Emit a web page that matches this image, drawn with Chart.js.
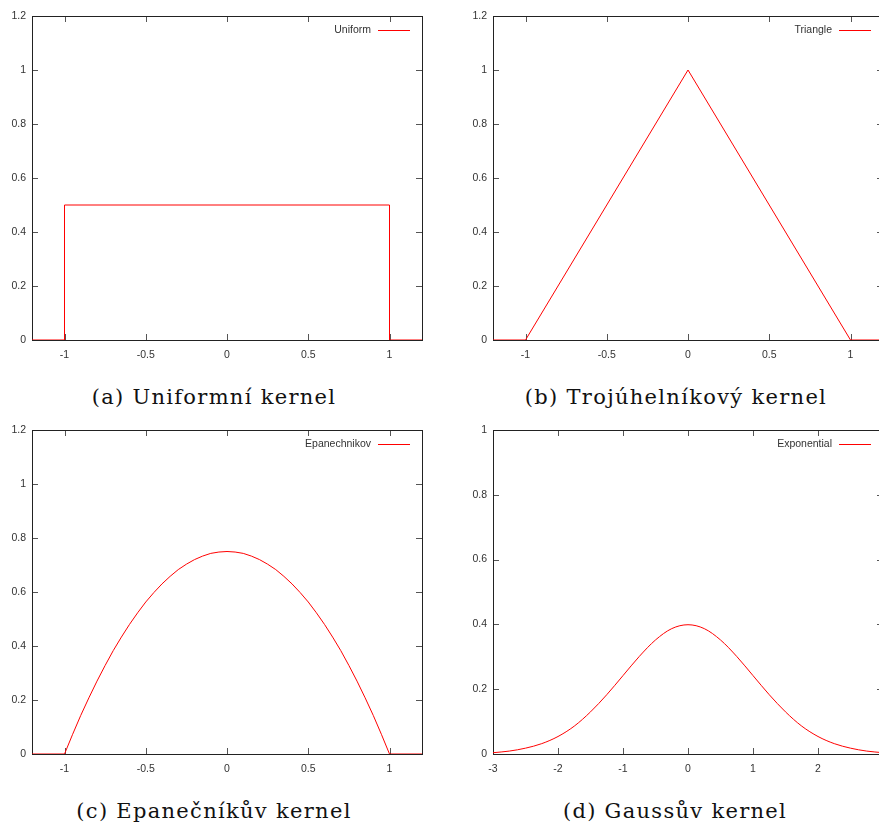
<!DOCTYPE html>
<html>
<head>
<meta charset="utf-8">
<script src="https://cdn.jsdelivr.net/npm/chart.js@4"></script>
<style>
body{margin:0;background:#fff;}
#page{position:relative;width:879px;height:827px;overflow:hidden;background:#fff;}
canvas{position:absolute;}
.cap{position:absolute;width:440px;text-align:center;font-family:"DejaVu Serif",serif;font-size:21px;letter-spacing:1.3px;color:#111;line-height:30px;}
</style>
</head>
<body>
<div id="page">
<canvas id="cA" width="440" height="370" style="left:0;top:0"></canvas>
<canvas id="cB" width="440" height="370" style="left:461px;top:0"></canvas>
<canvas id="cC" width="440" height="370" style="left:0;top:414px"></canvas>
<canvas id="cD" width="440" height="370" style="left:461px;top:414px"></canvas>
<div class="cap" style="left:-6px;top:382px">(a) Uniformní kernel</div>
<div class="cap" style="left:456px;top:382px">(b) Trojúhelníkový kernel</div>
<div class="cap" style="left:-6px;top:796px">(c) Epanečníkův kernel</div>
<div class="cap" style="left:455px;top:796px">(d) Gaussův kernel</div>
</div>
<script>
// kernel shapes
const uniformX=[-1.2,-1,-1,1,1,1.2];
const uniformY=[0,0,0.5,0.5,0,0];

const triangleX=[-1.2,-1,0,1,1.2];
const triangleY=[0,0,1,0,0];

const epanX=[-1.2,-1,-0.95,-0.9,-0.85,-0.8,-0.75,-0.7,-0.65,-0.6,-0.55,-0.5,-0.45,-0.4,-0.35,-0.3,-0.25,-0.2,-0.15,-0.1,-0.05,0,
0.05,0.1,0.15,0.2,0.25,0.3,0.35,0.4,0.45,0.5,0.55,0.6,0.65,0.7,0.75,0.8,0.85,0.9,0.95,1,1.2];
const epanY=[0,0,0.073,0.143,0.208,0.27,0.328,0.383,0.433,0.48,0.523,0.563,0.598,0.63,0.658,0.683,0.703,0.72,0.733,0.743,0.748,0.75,
0.748,0.743,0.733,0.72,0.703,0.683,0.658,0.63,0.598,0.563,0.523,0.48,0.433,0.383,0.328,0.27,0.208,0.143,0.073,0,0];

const gaussX=[-3,-2.75,-2.5,-2.25,-2,-1.75,-1.5,-1.25,-1,-0.75,-0.5,-0.25,0,0.25,0.5,0.75,1,1.25,1.5,1.75,2,2.25,2.5,2.75,3];
const gaussY=[0.004,0.009,0.018,0.032,0.054,0.086,0.13,0.183,0.242,0.301,0.352,0.387,0.399,0.387,0.352,0.301,0.242,0.183,0.13,0.086,0.054,0.032,0.018,0.009,0.004];

// axis ticks
const xTicksUnit=[-1,-0.5,0,0.5,1];
const xTicksGauss=[-3,-2,-1,0,1,2];
const yTicksUnit=[0,0.2,0.4,0.6,0.8,1,1.2];
const yTicksGauss=[0,0.2,0.4,0.6,0.8,1];

const tickFont={family:"Liberation Sans",size:10.5};

// gnuplot style frame with inward ticks on all sides, key in the top right corner
const framePlugin={
id:"frame",
beforeDatasetsDraw(chart){
let ctx=chart.ctx;
let a=chart.chartArea;
let xs=chart.scales.x, ys=chart.scales.y;
ctx.save();
ctx.strokeStyle="#555";
ctx.lineWidth=1;
ctx.beginPath();
xs.ticks.forEach(t=>{
let px=Math.round(xs.getPixelForValue(t.value))+0.5;
ctx.moveTo(px,a.bottom);ctx.lineTo(px,a.bottom-6);
ctx.moveTo(px,a.top);ctx.lineTo(px,a.top+6);
});
ys.ticks.forEach(t=>{
let py=Math.round(ys.getPixelForValue(t.value))+0.5;
ctx.moveTo(a.left,py);ctx.lineTo(a.left+6,py);
ctx.moveTo(a.right,py);ctx.lineTo(a.right-6,py);
});
ctx.stroke();
ctx.strokeStyle="#222";
ctx.strokeRect(Math.round(a.left)+0.5,Math.round(a.top)+0.5,Math.round(a.right-a.left),Math.round(a.bottom-a.top));

// key
let ds=chart.data.datasets[0];
let ky=a.top+14.5;
let lineEnd=a.right-12;
ctx.strokeStyle=ds.borderColor;
ctx.beginPath();
ctx.moveTo(lineEnd-32,ky);ctx.lineTo(lineEnd,ky);
ctx.stroke();
ctx.fillStyle="#333";
ctx.font="10.5px 'Liberation Sans'";
ctx.textAlign="right";
ctx.textBaseline="middle";
ctx.fillText(ds.label,lineEnd-39,ky);
ctx.restore();
}
};

function makeChart(id,label,xs,ys,xMin,xMax,xTicks,yMax,yTicks,smooth){

let points=xs.map((x,i)=>({x:x,y:ys[i]}));

return new Chart(document.getElementById(id),{
type:"line",
data:{
datasets:[{
label:label,
data:points,
borderColor:"#ff0000",
borderWidth:1,
pointRadius:0,
fill:false,
cubicInterpolationMode:smooth?"monotone":"default",
tension:0
}]
},
options:{
responsive:false,
animation:false,
devicePixelRatio:1,
layout:{padding:{top:16,right:18,left:0,bottom:0}},
plugins:{
tooltip:{enabled:false},
legend:{display:false}
},
scales:{
x:{
type:"linear",
min:xMin,max:xMax,
grid:{display:false,drawTicks:false},
border:{display:false},
afterBuildTicks:s=>{s.ticks=xTicks.map(v=>({value:v}));},
afterFit:s=>{s.height=30;},
ticks:{padding:9,color:"#333",font:tickFont,maxRotation:0,autoSkip:false,callback:v=>String(v)}
},
y:{
min:0,max:yMax,
grid:{display:false,drawTicks:false},
border:{display:false},
afterBuildTicks:s=>{s.ticks=yTicks.map(v=>({value:v}));},
afterFit:s=>{s.width=32;},
ticks:{padding:6,color:"#333",font:tickFont,autoSkip:false,callback:v=>String(v)}
}
}
},
plugins:[framePlugin]
});
}

makeChart("cA","Uniform",uniformX,uniformY,-1.2,1.2,xTicksUnit,1.2,yTicksUnit,false);
makeChart("cB","Triangle",triangleX,triangleY,-1.2,1.2,xTicksUnit,1.2,yTicksUnit,false);
makeChart("cC","Epanechnikov",epanX,epanY,-1.2,1.2,xTicksUnit,1.2,yTicksUnit,false);
makeChart("cD","Exponential",gaussX,gaussY,-3,3,xTicksGauss,1,yTicksGauss,true);
</script>
</body>
</html>
